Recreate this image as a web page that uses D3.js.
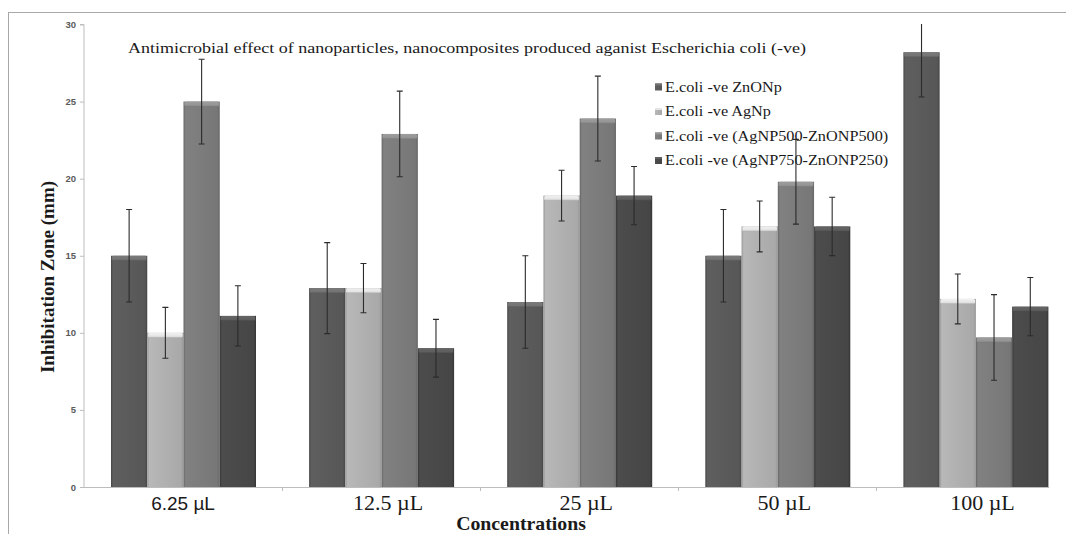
<!DOCTYPE html>
<html>
<head>
<meta charset="utf-8">
<script src="https://cdn.jsdelivr.net/npm/d3@7"></script>
<style>
  html, body { margin: 0; padding: 0; background: #fff; }
  svg { display: block; }
</style>
</head>
<body>
<svg id="chart" width="1066" height="534"></svg>
<script>
// Inhibition zone (mm) per concentration for each E. coli treatment
const categories = ["6.25 \u00b5L", "12.5 \u00b5L", "25 \u00b5L", "50 \u00b5L", "100 \u00b5L"];
const seriesNames = [
  "E.coli -ve ZnONp",
  "E.coli -ve AgNp",
  "E.coli -ve (AgNP500-ZnONP500)",
  "E.coli -ve (AgNP750-ZnONP250)"
];
const znoValues    = [15, 12.9, 12, 15, 28.2];
const agValues     = [10, 12.9, 18.9, 16.9, 12.2];
const ag500Values  = [25, 22.9, 23.9, 19.8, 9.7];
const ag750Values  = [11.1, 9, 18.9, 16.9, 11.7];
const znoErrors    = [3, 2.95, 3, 3, 2.9];
const agErrors     = [1.65, 1.6, 1.65, 1.65, 1.62];
const ag500Errors  = [2.75, 2.78, 2.75, 2.75, 2.78];
const ag750Errors  = [1.95, 1.87, 1.89, 1.89, 1.89];
const yTicks = [0, 5, 10, 15, 20, 25, 30];

const titleText = "Antimicrobial effect of nanoparticles, nanocomposites produced aganist Escherichia coli (-ve)";
const xTitle = "Concentrations";
const yTitle = "Inhibitation Zone (mm)";

const seriesValues = [znoValues, agValues, ag500Values, ag750Values];
const seriesErrors = [znoErrors, agErrors, ag500Errors, ag750Errors];

// bar shading per series: body tone, darker edge, lighter top cap
const shades = [
  { body: "#5b5b5b", edge: "#474747", cap: "#747474" },
  { body: "#b0b0b0", edge: "#979797", cap: "#e4e4e4" },
  { body: "#7c7c7c", edge: "#666666", cap: "#959595" },
  { body: "#494949", edge: "#363636", cap: "#5f5f5f" }
];

const svg = d3.select("#chart");
const plotLeft = 84, plotTop = 24.5, plotBottom = 487, bandW = 198.1;
const plotRight = 1049.5;

const x = d3.scaleBand().domain(categories).range([plotLeft, plotLeft + bandW * categories.length]);
const xs = d3.scaleBand().domain(d3.range(seriesNames.length)).range([27, 172]);
const y = d3.scaleLinear().domain([0, 30]).range([plotBottom, plotTop]);

const defs = svg.append("defs");
shades.forEach((s, i) => {
  const g = defs.append("linearGradient").attr("id", "body" + i)
    .attr("x1", "0").attr("x2", "1").attr("y1", "0").attr("y2", "0");
  g.append("stop").attr("offset", "0").attr("stop-color", s.edge);
  g.append("stop").attr("offset", "0.06").attr("stop-color", d3.color(s.body).brighter(0.12));
  g.append("stop").attr("offset", "0.5").attr("stop-color", s.body);
  g.append("stop").attr("offset", "0.93").attr("stop-color", d3.color(s.body).darker(0.12));
  g.append("stop").attr("offset", "1").attr("stop-color", s.edge);
  const c = defs.append("linearGradient").attr("id", "cap" + i)
    .attr("x1", "0").attr("x2", "0").attr("y1", "0").attr("y2", "1");
  c.append("stop").attr("offset", "0").attr("stop-color", d3.color(s.cap).brighter(0.15));
  c.append("stop").attr("offset", "0.7").attr("stop-color", s.cap);
  c.append("stop").attr("offset", "1").attr("stop-color", s.body);
});
defs.append("clipPath").attr("id", "plotClip")
  .append("rect").attr("x", 0).attr("y", plotTop - 0.5).attr("width", plotRight).attr("height", plotBottom - plotTop + 20);

// outer frame (runs past the right and bottom edges)
svg.append("rect")
  .attr("x", 8.5).attr("y", 12.5).attr("width", 1200).attr("height", 600)
  .attr("fill", "none").attr("stroke", "#a8a8a8").attr("stroke-width", 1);

// y axis
const yAxis = svg.append("g").attr("transform", `translate(${plotLeft},0)`)
  .call(d3.axisLeft(y).tickValues(yTicks).tickSize(4).tickPadding(4));
yAxis.select(".domain").attr("stroke", "#bdbdbd").attr("d", `M-4,${y(30)}H0V${plotBottom}`);
yAxis.selectAll(".tick line").attr("stroke", "#bdbdbd");
yAxis.selectAll(".tick text")
  .attr("font-family", "Liberation Sans, Arial, sans-serif")
  .attr("font-size", 9.5).attr("font-weight", "bold").attr("fill", "#5a5a5a");

// title
svg.append("text")
  .attr("x", 128).attr("y", 53)
  .attr("font-family", "Liberation Serif, Times New Roman, serif")
  .attr("font-size", 15).attr("fill", "#1a1a1a")
  .attr("textLength", 678).attr("lengthAdjust", "spacingAndGlyphs")
  .text(titleText);

// legend
const legend = svg.append("g").attr("transform", "translate(655,87)");
seriesNames.forEach((name, i) => {
  const row = legend.append("g").attr("transform", `translate(0,${i * 24.5})`);
  row.append("rect").attr("x", 0).attr("y", -3.5).attr("width", 7).attr("height", 7)
    .attr("fill", `url(#body${i})`);
  row.append("rect").attr("x", 0).attr("y", -3.5).attr("width", 7).attr("height", 2)
    .attr("fill", shades[i].cap);
  row.append("text")
    .attr("transform", "translate(10,0) scale(1.16,1)")
    .attr("dy", "0.35em")
    .attr("font-family", "Liberation Serif, Times New Roman, serif")
    .attr("font-size", 14).attr("fill", "#1a1a1a")
    .text(name);
});

// x axis baseline with band-boundary ticks
const plot = svg.append("g").attr("clip-path", "url(#plotClip)");
plot.append("line")
  .attr("x1", plotLeft).attr("x2", plotRight).attr("y1", plotBottom + 0.5).attr("y2", plotBottom + 0.5)
  .attr("stroke", "#bdbdbd").attr("stroke-width", 1.2);
plot.selectAll(".bticks").data(categories.slice(1)).enter().append("line")
  .attr("x1", d => Math.round(x(d)) + 0.5).attr("x2", d => Math.round(x(d)) + 0.5)
  .attr("y1", plotBottom).attr("y2", plotBottom + 4)
  .attr("stroke", "#bdbdbd");

// bars
const barData = [];
categories.forEach((c, ci) => {
  seriesValues.forEach((vals, si) => {
    barData.push({ c, si, v: vals[ci], e: seriesErrors[si][ci] });
  });
});
const bw = xs.bandwidth();
const bars = plot.selectAll(".bar").data(barData).enter().append("g");
bars.append("rect")
  .attr("x", d => x(d.c) + xs(d.si)).attr("y", d => y(d.v))
  .attr("width", bw).attr("height", d => plotBottom - y(d.v))
  .attr("fill", d => `url(#body${d.si})`);
bars.append("rect")
  .attr("x", d => x(d.c) + xs(d.si) + 0.8).attr("y", d => y(d.v))
  .attr("width", bw - 1.6).attr("height", 5).attr("rx", 1.5)
  .attr("fill", d => `url(#cap${d.si})`);

// error bars
const err = plot.selectAll(".err").data(barData).enter().append("g")
  .attr("stroke", "#2b2b2b").attr("stroke-width", 1.1);
const cx = d => x(d.c) + xs(d.si) + bw / 2;
err.append("line")
  .attr("x1", cx).attr("x2", cx)
  .attr("y1", d => y(d.v + d.e)).attr("y2", d => y(d.v - d.e));
err.append("line")
  .attr("x1", d => cx(d) - 3).attr("x2", d => cx(d) + 3)
  .attr("y1", d => y(d.v + d.e)).attr("y2", d => y(d.v + d.e));
err.append("line")
  .attr("x1", d => cx(d) - 3).attr("x2", d => cx(d) + 3)
  .attr("y1", d => y(d.v - d.e)).attr("y2", d => y(d.v - d.e));

// category labels
svg.selectAll(".clabel").data(categories).enter().append("text")
  .attr("transform", (d, i) => `translate(${x(d) + x.bandwidth() / 2 + (i === 0 ? 0 : 7)},510) scale(${i === 0 ? 1.0 : 1.1},1)`)
  .attr("text-anchor", "middle")
  .attr("font-family", (d, i) => i === 0 ? "Liberation Sans, Arial, sans-serif" : "Liberation Serif, Times New Roman, serif")
  .attr("font-size", (d, i) => i === 0 ? 19 : 20)
  .attr("fill", "#1a1a1a")
  .text(d => d);

// axis titles
svg.append("text")
  .attr("transform", "translate(521,530) scale(1.1,1)")
  .attr("text-anchor", "middle")
  .attr("font-family", "Liberation Serif, Times New Roman, serif")
  .attr("font-weight", "bold").attr("font-size", 18).attr("fill", "#1a1a1a")
  .text(xTitle);
svg.append("text")
  .attr("transform", "translate(54,277) rotate(-90)")
  .attr("text-anchor", "middle")
  .attr("font-family", "Liberation Serif, Times New Roman, serif")
  .attr("font-weight", "bold").attr("font-size", 19).attr("fill", "#1a1a1a")
  .text(yTitle);
</script>
</body>
</html>
